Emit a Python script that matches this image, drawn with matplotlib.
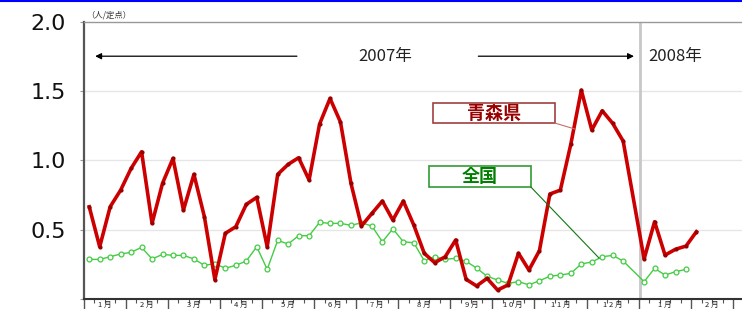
import matplotlib
matplotlib.use("Agg")
import matplotlib.pyplot as plt
from matplotlib.patches import Rectangle
from matplotlib.lines import Line2D
import numpy as np

plt.rcParams['font.family'] = ['Noto Sans CJK JP', 'DejaVu Sans']

# weekly values (per sentinel), 2007 weeks 1-52 and 2008 weeks 1-6
aomori_2007 = [0.666, 0.377, 0.666, 0.786, 0.943, 1.063, 0.546, 0.835, 1.015, 0.642,
               0.90, 0.594, 0.14, 0.474, 0.522, 0.683, 0.734, 0.377, 0.90, 0.972,
               1.02, 0.859, 1.263, 1.448, 1.277, 0.835, 0.527, 0.618, 0.707, 0.57,
               0.707, 0.534, 0.33, 0.262, 0.305, 0.426, 0.142, 0.094, 0.149, 0.065,
               0.101, 0.33, 0.209, 0.349, 0.758, 0.786, 1.118, 1.508, 1.22, 1.359,
               1.268, 1.14]
aomori_2008 = [0.289, 0.558, 0.317, 0.359, 0.382, 0.486]

national_2007 = [0.286, 0.286, 0.305, 0.325, 0.337, 0.373, 0.289, 0.322, 0.315, 0.315,
                 0.289, 0.243, 0.255, 0.222, 0.243, 0.274, 0.377, 0.214, 0.423, 0.397,
                 0.457, 0.457, 0.553, 0.546, 0.546, 0.532, 0.55, 0.527, 0.413, 0.507,
                 0.413, 0.406, 0.276, 0.305, 0.286, 0.294, 0.272, 0.223, 0.164, 0.137,
                 0.113, 0.125, 0.102, 0.132, 0.164, 0.173, 0.185, 0.253, 0.267, 0.305,
                 0.315, 0.274]
national_2008 = [0.125, 0.221, 0.173, 0.197, 0.214]

month_labels = ["1 月", "2 月", "3 月", "4 月", "5 月", "6 月", "7 月", "8 月", "9 月",
                "1 0 月", "1 1 月", "1 2 月", "1 月", "2 月"]
weeks_per_month = [4, 4, 5, 4, 5, 4, 4, 5, 4, 4, 5, 5, 5, 4]
weeks_2007 = 53  # slots on the axis for 2007

# x positions = week slot centres, one continuous line per series
x_red = np.concatenate([np.arange(len(aomori_2007)),
                        weeks_2007 + np.arange(len(aomori_2008))]) + 0.5
y_red = aomori_2007 + aomori_2008
x_grn = np.concatenate([np.arange(len(national_2007)),
                        weeks_2007 + np.arange(len(national_2008))]) + 0.5
y_grn = national_2007 + national_2008

fig = plt.figure(figsize=(7.42, 3.09), dpi=100)
ax = fig.add_axes([0.1132, 0.0324, 0.8868, 0.8964])

ax.set_xlim(0, 62.85)
ax.set_ylim(0, 2.0)

# grid lines
for g in [0.5, 1.0, 1.5]:
    ax.axhline(g, color="#e6e6e6", lw=1, zorder=0)
ax.axvline(weeks_2007 + 0.15, color="#c8c8c8", lw=2, zorder=1)

red = "#cc0000"
green = "#44cc44"

ax.plot(x_grn, y_grn, color=green, lw=1, marker="o", ms=3.5,
        mfc="white", mec=green, mew=0.9, zorder=3)
ax.plot(x_red, y_red, color=red, lw=2.6, marker="o", ms=2,
        mfc="#990000", mec="#990000", zorder=4)

# spines
ax.spines["right"].set_visible(False)
ax.spines["top"].set_color("#999999")
ax.spines["top"].set_linewidth(1)
ax.spines["left"].set_color("#555555")
ax.spines["left"].set_linewidth(1.6)
ax.spines["bottom"].set_color("#333333")
ax.spines["bottom"].set_linewidth(1.5)

# y axis
ax.set_yticks([0, 0.5, 1.0, 1.5, 2.0])
ax.set_yticklabels(["", "0.5", "1.0", "1.5", "2.0"], family="DejaVu Sans")
ax.tick_params(axis="y", length=3, color="#999999", labelsize=16, pad=10,
               labelcolor="#111111")

# x axis: month boundaries and week ticks
bounds = np.concatenate([[0], np.cumsum(weeks_per_month)])
ax.set_xticks(bounds)
ax.set_xticklabels([])
ax.set_xticks(np.arange(0, 63), minor=True)
ax.tick_params(axis="x", which="major", length=9, color="#555555", width=1)
ax.tick_params(axis="x", which="minor", length=3, color="#555555", width=0.8)

centres = (bounds[:-1] + bounds[1:]) / 2
for c, lab in zip(centres, month_labels):
    ax.text(c, -0.012, lab, ha="center", va="top", fontsize=5.5, color="#222222",
            clip_on=False)

# unit label
ax.text(0.2, 2.015, "（人/定点）", fontsize=6, color="#333333", va="bottom",
        ha="left", clip_on=False)

# year labels and arrows
ax.annotate("", xy=(0.8, 1.753), xytext=(20.6, 1.753),
            arrowprops=dict(arrowstyle="-|>", color="black", lw=0.9,
                            mutation_scale=9))
ax.annotate("", xy=(52.8, 1.753), xytext=(37.4, 1.753),
            arrowprops=dict(arrowstyle="-|>", color="black", lw=0.9,
                            mutation_scale=9))
ax.text(28.8, 1.753, "2007年", fontsize=12, ha="center", va="center", color="#222222")
ax.text(53.9, 1.753, "2008年", fontsize=12, ha="left", va="center", color="#222222",
        clip_on=False)

# callout boxes
ax.add_patch(Rectangle((33.33, 1.27), 11.66, 0.144, facecolor="white",
                       edgecolor="#a04040", lw=1.2, zorder=5))
ax.text(39.16, 1.342, "青森県", fontsize=13, fontweight="bold", color="#990000",
        ha="center", va="center", zorder=6)
ax.plot([44.99, 46.9], [1.27, 1.227], color="#c07070", lw=0.8, zorder=5)

ax.add_patch(Rectangle((32.95, 0.808), 9.74, 0.152, facecolor="white",
                       edgecolor="#339933", lw=1.2, zorder=5))
ax.text(37.82, 0.884, "全国", fontsize=13, fontweight="bold", color="#008000",
        ha="center", va="center", zorder=6)
ax.plot([42.69, 49.19], [0.808, 0.296], color="#117711", lw=0.8, zorder=5)

# blue rule at the very top
fig.add_artist(Line2D([0, 1], [0.997, 0.997], color="blue", lw=1.5,
                      transform=fig.transFigure))

plt.savefig("out.png", dpi=100)
